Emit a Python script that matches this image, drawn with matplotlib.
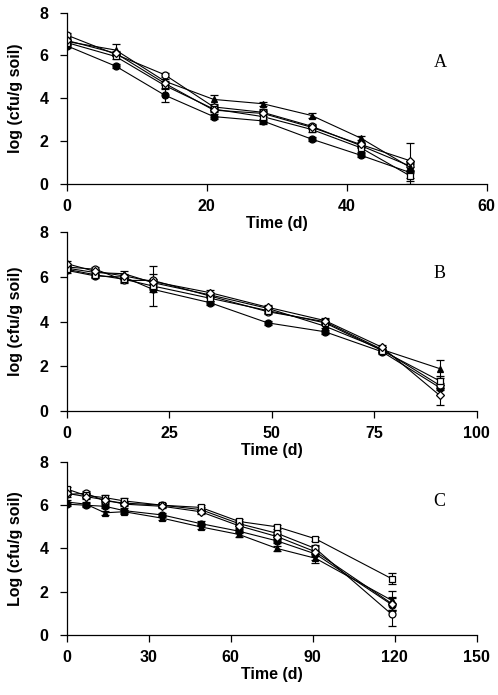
import matplotlib.pyplot as plt

# ---- data (log cfu/g soil) ----
days_a = [0, 7, 14, 21, 28, 35, 42, 49]
a_circle_f = [6.45, 5.50, 4.15, 3.15, 2.95, 2.10, 1.35, 0.55]
a_circle_o = [6.95, 6.05, 5.10, 3.60, 3.35, 2.70, 1.80, 0.85]
a_tri_f = [6.65, 6.25, 4.80, 3.95, 3.75, 3.20, 2.15, 0.80]
a_square = [6.60, 5.95, 4.60, 3.50, 3.15, 2.55, 1.70, 0.40]
a_diamond = [6.70, 6.10, 4.70, 3.45, 3.30, 2.65, 1.85, 1.10]
a_err_f = [0.10, 0.10, 0.30, 0.10, 0.10, 0.10, 0.10, 0.40]
a_err_o = [0.10, 0.10, 0.10, 0.10, 0.10, 0.10, 0.10, 0.20]
a_err_t = [0.10, 0.30, 0.10, 0.20, 0.10, 0.10, 0.10, 0.20]
a_err_s = [0.10, 0.10, 0.10, 0.10, 0.35, 0.10, 0.20, 0.40]
a_err_d = [0.10, 0.10, 0.10, 0.10, 0.10, 0.10, 0.10, 0.80]

days_b = [0, 7, 14, 21, 35, 49, 63, 77, 91]
b_circle_f = [6.30, 6.05, 6.00, 5.45, 4.85, 3.95, 3.55, 2.65, 1.05]
b_circle_o = [6.45, 6.35, 5.85, 5.85, 5.15, 4.45, 4.00, 2.75, 1.15]
b_tri_f = [6.40, 6.20, 6.15, 5.75, 5.20, 4.60, 3.80, 2.75, 1.90]
b_square = [6.35, 6.10, 5.90, 5.60, 5.05, 4.50, 3.95, 2.70, 1.35]
b_diamond = [6.60, 6.25, 6.05, 5.80, 5.30, 4.65, 4.05, 2.85, 0.70]
b_err_f = [0.10, 0.10, 0.10, 0.10, 0.10, 0.10, 0.10, 0.10, 0.10]
b_err_o = [0.10, 0.10, 0.10, 0.30, 0.10, 0.10, 0.10, 0.10, 0.10]
b_err_t = [0.10, 0.10, 0.10, 0.10, 0.10, 0.10, 0.10, 0.10, 0.40]
b_err_s = [0.10, 0.10, 0.10, 0.90, 0.10, 0.10, 0.10, 0.10, 0.20]
b_err_d = [0.10, 0.10, 0.10, 0.10, 0.10, 0.10, 0.10, 0.10, 0.45]

days_c = [0, 7, 14, 21, 35, 49, 63, 77, 91, 119]
c_circle_f = [6.05, 6.00, 5.95, 5.75, 5.55, 5.15, 4.80, 4.35, 3.75, 1.40]
c_circle_o = [6.50, 6.55, 6.20, 6.10, 6.00, 5.80, 5.15, 4.70, 4.00, 0.95]
c_tri_f = [6.15, 6.05, 5.65, 5.70, 5.40, 5.00, 4.65, 4.00, 3.55, 1.60]
c_square = [6.75, 6.45, 6.35, 6.20, 6.00, 5.90, 5.25, 5.00, 4.45, 2.60]
c_diamond = [6.55, 6.40, 6.25, 6.05, 5.95, 5.70, 5.05, 4.55, 3.85, 1.45]
c_err_f = [0.10, 0.10, 0.10, 0.10, 0.10, 0.10, 0.10, 0.10, 0.40, 0.30]
c_err_o = [0.10, 0.10, 0.10, 0.10, 0.10, 0.10, 0.10, 0.10, 0.10, 0.55]
c_err_t = [0.10, 0.10, 0.10, 0.10, 0.10, 0.10, 0.10, 0.10, 0.10, 0.45]
c_err_s = [0.10, 0.10, 0.10, 0.15, 0.10, 0.10, 0.10, 0.10, 0.10, 0.25]
c_err_d = [0.10, 0.10, 0.10, 0.10, 0.10, 0.10, 0.10, 0.10, 0.10, 0.30]

# marker styles: (marker, face colour)
styles = [("o", "black"), ("o", "white"), ("^", "black"), ("s", "white"), ("D", "white")]


def panel(ax, days, series, errs, xmax, xstep, ylab, letter, lx, ly):
    for (mk, fc), ys, er in zip(styles, series, errs):
        ax.errorbar(days, ys, yerr=er, color="black", lw=0.8, marker=mk,
                    mfc=fc, mec="black", mew=0.9, ms=5 if mk != "D" else 4.3,
                    capsize=3, elinewidth=0.8, capthick=0.8)
    ax.set_xlim(0, xmax)
    ax.set_ylim(0, 8)
    ax.set_xticks(range(0, xmax + 1, xstep))
    ax.set_yticks([0, 2, 4, 6, 8])
    for s in ["top", "right"]:
        ax.spines[s].set_visible(False)
    ax.spines["left"].set_linewidth(0.9)
    ax.spines["bottom"].set_linewidth(0.9)
    ax.tick_params(axis="both", direction="out", length=5, width=0.9,
                   labelsize=11.5)
    ax.tick_params(axis="x", pad=6)
    ax.tick_params(axis="y", pad=8)
    for t in ax.get_xticklabels() + ax.get_yticklabels():
        t.set_fontweight("heavy")
    ax.set_xlabel("Time (d)", fontsize=11.5, fontweight="heavy", labelpad=1)
    ax.set_ylabel(ylab, fontsize=11.5, fontweight="heavy", labelpad=12)
    ax.text(lx, ly, letter, transform=ax.transAxes, fontsize=13,
            family="Liberation Serif", ha="center", va="center")


plt.rcParams["font.family"] = ["Liberation Sans", "DejaVu Sans"]
fig = plt.figure(figsize=(4.98, 6.95), dpi=100)

ax1 = fig.add_axes([0.134, 0.735, 0.843, 0.247])
panel(ax1, days_a, [a_circle_f, a_circle_o, a_tri_f, a_square, a_diamond],
      [a_err_f, a_err_o, a_err_t, a_err_s, a_err_d], 60, 20,
      "log (cfu/g soil)", "A", 0.889, 0.709)

ax2 = fig.add_axes([0.134, 0.4086, 0.823, 0.257])
panel(ax2, days_b, [b_circle_f, b_circle_o, b_tri_f, b_square, b_diamond],
      [b_err_f, b_err_o, b_err_t, b_err_s, b_err_d], 100, 25,
      "log (cfu/g soil)", "B", 0.910, 0.771)

ax3 = fig.add_axes([0.134, 0.0863, 0.823, 0.249])
panel(ax3, days_c, [c_circle_f, c_circle_o, c_tri_f, c_square, c_diamond],
      [c_err_f, c_err_o, c_err_t, c_err_s, c_err_d], 150, 30,
      "Log (cfu/g soil)", "C", 0.910, 0.769)

fig.savefig("out.png", dpi=100)
